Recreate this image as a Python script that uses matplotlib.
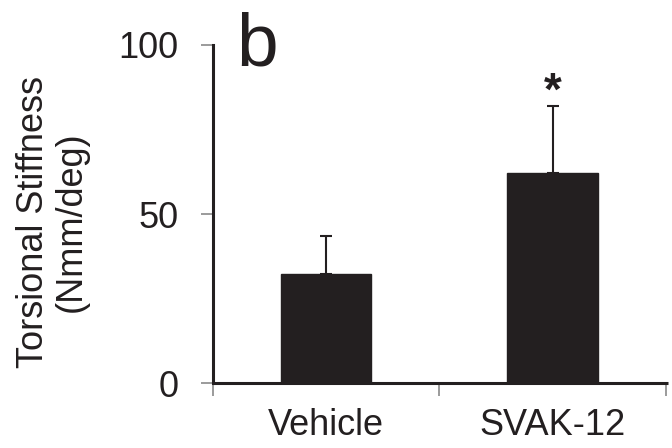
import matplotlib
matplotlib.use("Agg")
import matplotlib.pyplot as plt
from matplotlib.ticker import FixedLocator

plt.rcParams['font.family'] = ['Liberation Sans', 'DejaVu Sans']

categories = ["Vehicle", "SVAK-12"]
means = [32.2, 62.1]
errors = [11.3, 19.9]
yticks = [0, 50, 100]
ylabel = "Torsional Stiffness\n(Nmm/deg)"
panel = "b"
signif = ["", "*"]

dark = "#231f20"
gray = "#8a8a8a"

fig = plt.figure(figsize=(6.72, 4.48), dpi=100)
ax = fig.add_axes([213/672, 1 - 383/448, 455/672, (383 - 45)/448])

x = list(range(len(categories)))
ax.bar(x, means, width=0.4, color=dark, edgecolor=dark, zorder=2)
ax.errorbar(x, means, yerr=[[0]*len(errors), errors], fmt='none',
            ecolor=dark, elinewidth=1.5, capsize=4, capthick=1.5, zorder=3)

for xi, m, e, s in zip(x, means, errors, signif):
    if s:
        ax.text(xi, m + e - 2.6, s, ha='center', va='bottom',
                fontsize=33, fontweight='bold', color=dark)

ax.set_xlim(-0.5, 1.51)
ax.set_ylim(0, 100)
ax.set_yticks(yticks)
ax.set_xticks(x)
ax.set_xticklabels(categories)
ax.xaxis.set_minor_locator(FixedLocator([-0.5, 0.5, 1.5]))

for sp in ['top', 'right']:
    ax.spines[sp].set_visible(False)
ax.spines['left'].set_linewidth(2.2)
ax.spines['bottom'].set_linewidth(2.2)
ax.spines['left'].set_color(dark)
ax.spines['bottom'].set_color(dark)
ax.spines['bottom'].set_capstyle('butt')

ax.tick_params(axis='y', direction='out', length=9, width=1.2, color=gray,
               labelsize=26, pad=16, labelcolor=dark)
ax.tick_params(axis='x', which='major', length=0, labelsize=26, pad=18,
               labelcolor=dark)
ax.tick_params(axis='x', which='minor', direction='out', length=9,
               width=1.2, color=gray)

fig.text(52/672, 1 - 222/448, ylabel, rotation=90, ha='center', va='center',
         multialignment='center', fontsize=26, color=dark, linespacing=1.1)
fig.text(236/672, 1 - 65/448, panel, ha='left', va='baseline',
         fontsize=54, color=dark)

fig.savefig("out.png", dpi=100)
